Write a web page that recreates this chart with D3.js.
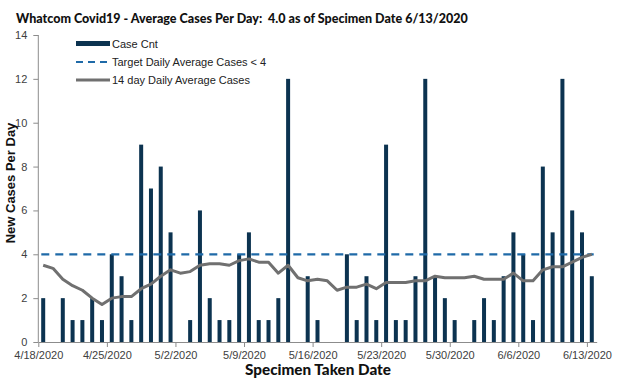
<!DOCTYPE html>
<html><head><meta charset="utf-8">
<script src="https://cdn.jsdelivr.net/npm/d3@7"></script>
<style>body{margin:0;background:#fff}</style>
</head><body>
<svg id="chart" width="624" height="378"></svg>
<script>
// ---- data ----
const dates = ["2020-04-18","2020-04-19","2020-04-20","2020-04-21","2020-04-22","2020-04-23","2020-04-24","2020-04-25","2020-04-26","2020-04-27","2020-04-28","2020-04-29","2020-04-30","2020-05-01","2020-05-02","2020-05-03","2020-05-04","2020-05-05","2020-05-06","2020-05-07","2020-05-08","2020-05-09","2020-05-10","2020-05-11","2020-05-12","2020-05-13","2020-05-14","2020-05-15","2020-05-16","2020-05-17","2020-05-18","2020-05-19","2020-05-20","2020-05-21","2020-05-22","2020-05-23","2020-05-24","2020-05-25","2020-05-26","2020-05-27","2020-05-28","2020-05-29","2020-05-30","2020-05-31","2020-06-01","2020-06-02","2020-06-03","2020-06-04","2020-06-05","2020-06-06","2020-06-07","2020-06-08","2020-06-09","2020-06-10","2020-06-11","2020-06-12","2020-06-13"];
const caseCnt = [2,0,2,1,1,2,1,4,3,1,9,7,8,5,0,1,6,2,1,1,4,5,1,1,2,12,0,3,1,0,0,4,1,3,1,9,1,1,3,12,3,2,1,0,1,2,1,3,5,4,1,8,5,12,6,5,3];
const avg14 = [3.5,3.36,2.86,2.57,2.36,2.0,1.71,2.0,2.07,2.07,2.43,2.64,3.0,3.29,3.14,3.21,3.5,3.57,3.57,3.5,3.71,3.79,3.64,3.64,3.14,3.5,2.93,2.79,2.86,2.79,2.36,2.5,2.5,2.64,2.43,2.71,2.71,2.71,2.79,2.79,3.0,2.93,2.93,2.93,3.0,2.86,2.86,2.86,3.14,2.79,2.79,3.29,3.43,3.43,3.64,3.86,4.0];
const target = 4;
const tickDates = ["2020-04-18","2020-04-25","2020-05-02","2020-05-09","2020-05-16","2020-05-23","2020-05-30","2020-06-06","2020-06-13"];
const yTicks = [0,2,4,6,8,10,12,14];
const titleText = "Whatcom Covid19 - Average Cases Per Day:  4.0 as of Specimen Date 6/13/2020";
const legendLabels = ["Case Cnt","Target Daily Average Cases < 4","14 day Daily Average Cases"];

// ---- layout ----
const svg = d3.select("#chart");
const parse = d3.utcParse("%Y-%m-%d");
const fmt = d3.utcFormat("%-m/%-d/%Y");
const dayMs = 86400000;
const start = parse(dates[0]);
const end = new Date(parse(dates[dates.length-1]).getTime() + dayMs);
const x = d3.scaleUtc().domain([start, end]).range([38.3, 596.7]);
const y = d3.scaleLinear().domain([0,14]).range([342, 35]);
const xc = d => x(new Date(parse(d).getTime() + dayMs/2));

const barColor = "#0c3350", dashColor = "#1f6aa8", lineColor = "#707070", axisColor = "#8c8c8c";

// bars
const barW = 4;
svg.append("g").selectAll("rect").data(dates.map((d,i)=>({d, v: caseCnt[i]})).filter(o=>o.v>0))
  .join("rect")
  .attr("x", o => xc(o.d) - barW/2)
  .attr("width", barW)
  .attr("y", o => y(o.v))
  .attr("height", o => y(0) - y(o.v))
  .attr("fill", barColor);

// target line
svg.append("line")
  .attr("x1", x(start)+3).attr("x2", x(end)-3)
  .attr("y1", y(target)).attr("y2", y(target))
  .attr("stroke", dashColor).attr("stroke-width", 2.2)
  .attr("stroke-dasharray", "8,6");

// avg line
svg.append("path")
  .datum(dates.map((d,i)=>[xc(d), y(avg14[i])]))
  .attr("d", d3.line())
  .attr("fill","none").attr("stroke", lineColor).attr("stroke-width", 3)
  .attr("stroke-linejoin","round");

// axes
const yAxis = svg.append("g").attr("transform","translate(38.3,0)")
  .call(d3.axisLeft(y).tickValues(yTicks).tickSize(5).tickPadding(5).tickFormat(d3.format("d")));
const xAxis = svg.append("g").attr("transform","translate(0,342)")
  .call(d3.axisBottom(x).tickValues(tickDates.map(parse)).tickSize(5).tickSizeOuter(0).tickPadding(4).tickFormat(fmt));
[yAxis, xAxis].forEach(g=>{
  g.select(".domain").attr("stroke", axisColor);
  g.selectAll(".tick line").attr("stroke", axisColor);
  g.selectAll(".tick text").attr("fill","#404040")
    .style("font-family","'Liberation Sans', Arial, sans-serif").style("font-size","11px");
});
yAxis.select(".domain").attr("d", `M-0,${y(14)}V${y(0)}`);
yAxis.selectAll(".tick text").attr("x",-11);

// titles
const title = svg.append("text").attr("x",16).attr("y",23)
  .style("white-space","pre")
  .style("font-family","Lato, 'Open Sans', sans-serif").style("font-weight","900")
  .style("font-size","12px").attr("fill","#111").text(titleText);
(function fit(){ const w = title.node().getComputedTextLength(); if (w>0) title.style("font-size", (12*452/w).toFixed(2)+"px"); })();

const xt = svg.append("text").attr("x",318).attr("y",374.5).attr("text-anchor","middle")
  .style("font-family","Lato, 'Open Sans', sans-serif").style("font-weight","900")
  .style("font-size","12px").attr("fill","#111").text("Specimen Taken Date");
(function fit(){ const w = xt.node().getComputedTextLength(); if (w>0) xt.style("font-size", (12*146/w).toFixed(2)+"px"); })();

svg.append("text").attr("transform","translate(15,183) rotate(-90)").attr("text-anchor","middle")
  .style("font-family","'Liberation Sans', Arial, sans-serif").style("font-weight","700")
  .style("font-size","13px").attr("fill","#111").text("New Cases Per Day");

// legend
const lg = svg.append("g").attr("transform","translate(76,0)");
const ly = [43.5, 62, 80];
lg.append("rect").attr("x",0).attr("y",ly[0]-2.5).attr("width",34).attr("height",5).attr("fill",barColor);
lg.append("line").attr("x1",0).attr("x2",34).attr("y1",ly[1]).attr("y2",ly[1])
  .attr("stroke",dashColor).attr("stroke-width",2.2).attr("stroke-dasharray","7,5");
lg.append("line").attr("x1",0).attr("x2",34).attr("y1",ly[2]).attr("y2",ly[2])
  .attr("stroke",lineColor).attr("stroke-width",3);
lg.selectAll("text.lg").data(legendLabels).join("text").attr("class","lg")
  .attr("x",36).attr("y",(d,i)=>ly[i]+4)
  .style("font-family","'Liberation Sans', Arial, sans-serif").style("font-size","11px")
  .attr("fill","#222").text(d=>d);
</script>
</body></html>
